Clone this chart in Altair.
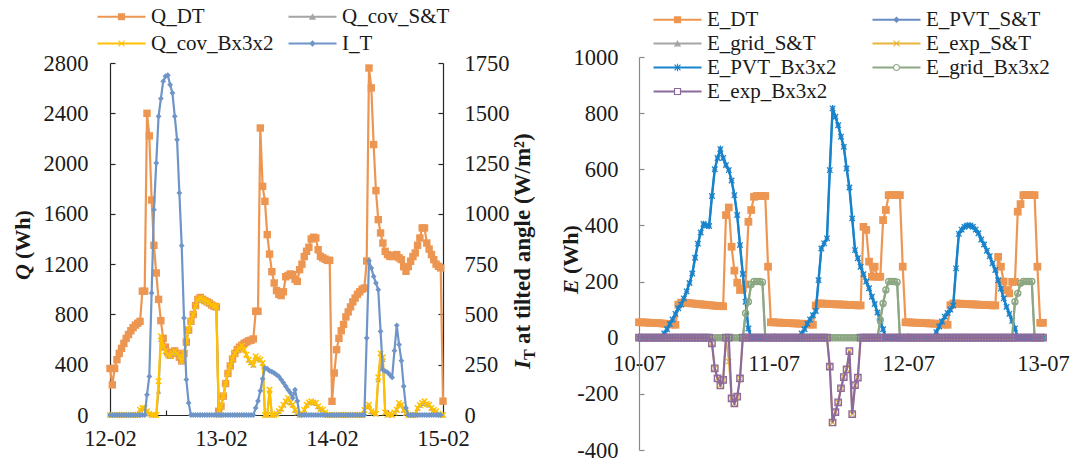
import json
import altair as alt
import pandas as pd

# ---------------------------------------------------------------------------
# Left panel: heat demand Q_DT, covered heat, irradiance I_T (half-hourly)
# ---------------------------------------------------------------------------
left_days = ["12-02", "13-02", "14-02", "15-02"]
left_names = ["Q_DT", "Q_cov_S&T", "Q_cov_Bx3x2", "I_T"]

q_dt = [
    370, 240, 370, 440, 490, 530, 570, 610, 640, 670, 695, 715, 730, 745,
    985, 985, 2400, 2220, 1710, 1350, 1130, 920, 750, 610, 540, 500, 475,
    495, 510, 490, 460, 430, 490, 580, 675, 745, 800, 870, 920, 935, 920,
    910, 900, 890, 875, 865, 860, 30, 70, 150, 250, 330, 390, 445, 490, 520,
    540, 555, 570, 580, 590,
    595, 605, 825, 825, 2283, 1819, 1700, 1435, 1280, 1140, 1050, 990, 960,
    950, 980, 1100, 1110, 1122, 1116, 1080, 1063, 1156, 1200, 1260, 1302,
    1334, 1400, 1414, 1408, 1315, 1262, 1250, 1240, 1230, 1230,
    109, 334, 520, 610, 670, 720, 780, 820, 860, 900, 930, 960, 980, 1000,
    1010, 1225, 2760, 2602, 2151, 1785, 1554, 1448, 1368, 1302, 1276, 1262,
    1260, 1270, 1276, 1250, 1236, 1180, 1143, 1180, 1223, 1260, 1289, 1350,
    1408, 1488, 1488, 1368, 1320, 1276, 1236, 1200, 1183, 1170, 110,
]

q_cov_bx = (
    [0] * 13
    + [42, 56, 56, 30, 10, 0, 0, 0, 268, 626, 546, 507, 480, 467, 493, 507,
       490, 467, 427, 493, 586, 679, 745, 800, 865, 918, 930, 918, 910, 900,
       891, 875, 865, 865]
    + [0, 69, 150, 250, 330, 390, 445, 490, 515, 533, 552, 520, 480, 440, 420,
       400, 467, 450, 440, 414, 0, 0, 202, 0, 0, 10, 30, 50, 82, 110, 135, 100,
       82, 40, 20, 0, 10, 40, 82, 100, 109, 100, 95, 69, 50, 42, 20]
    + [0] * 16
    + [40, 69, 82, 30, 20, 10, 300, 490, 460, 20, 0, 10, 0, 20, 42, 95, 82, 40,
       16]
    + [0] * 4
    + [56, 80, 95, 109, 90, 82, 56, 40, 29, 10, 0, 0]
)

q_cov_st = (
    [0] * 13
    + [40, 52, 50, 26, 8, 0, 0, 0, 188, 600, 540, 505, 478, 465, 490, 505,
       488, 465, 425, 490, 584, 676, 742, 798, 862, 915, 928, 916, 908, 898,
       889, 873, 863, 862]
    + [0, 66, 146, 246, 326, 386, 441, 486, 512, 530, 548, 516, 476, 436, 416,
       396, 462, 446, 436, 410, 0, 0, 190, 0, 0, 8, 26, 46, 78, 105, 130, 96,
       78, 36, 18, 0, 8, 36, 78, 96, 105, 96, 90, 65, 46, 38, 18]
    + [0] * 16
    + [36, 64, 78, 26, 18, 8, 280, 390, 440, 18, 0, 8, 0, 18, 38, 90, 78, 36,
       14]
    + [0] * 4
    + [52, 76, 90, 105, 86, 78, 52, 36, 26, 8, 0, 0]
)

i_t = (
    [0] * 16
    + [101, 192, 606, 1021, 1253, 1485, 1573, 1659, 1684, 1689, 1642, 1601,
       1485, 1369, 1104, 842, 482, 176, 60]
    + [0] * 28
    + [35, 70, 120, 180, 234, 230, 220, 215, 209, 200, 192, 176, 160, 143,
       125, 110, 85, 126, 70]
    + [0] * 29
    + [383, 767, 731, 689, 656, 623, 416, 225, 218, 212, 200, 187, 320, 446,
       350, 270, 143, 35]
    + [0] * 15
)

# ---------------------------------------------------------------------------
# Right panel: electricity balance (half-hourly), 10-07 .. 13-07
# ---------------------------------------------------------------------------
right_days = ["10-07", "11-07", "12-07", "13-07"]
right_names = ["E_DT", "E_PVT_S&T", "E_grid_S&T", "E_exp_S&T",
               "E_PVT_Bx3x2", "E_grid_Bx3x2", "E_exp_Bx3x2"]

e_dt = (
    [55, 55, 54, 54, 53, 53, 52, 52, 51, 50, 49, 48, 47, 46]
    + [118, 125, 125, 124, 123, 122, 121, 120, 119, 118, 117, 116, 115, 114,
       113, 113, 112]
    + [437, 464, 324, 239, 196, 170, 175, 190, 413, 455, 502, 505, 505, 505,
       505, 253]
    + [55, 55, 54, 54, 53, 53, 52, 52, 51, 51, 50, 50, 49, 48, 47, 46]
    + [115, 122, 122, 121, 121, 120, 120, 119, 119, 118, 118, 117, 117, 116,
       116, 115, 115]
    + [395, 384, 271, 217, 253, 217, 217, 419, 455, 508, 508, 508, 508, 508,
       253]
    + [55, 55, 54, 54, 53, 53, 52, 52, 51, 51, 50, 50, 49, 48, 47, 46]
    + [116, 122, 122, 121, 121, 120, 120, 119, 119, 118, 118, 117, 117, 116,
       116, 115, 115]
    + [288, 253, 200, 170, 158, 199, 199, 449, 476, 508, 508, 508, 508, 508,
       253, 53, 53]
)

e_pvt_bx = (
    [0] * 9
    + [15, 30, 49, 65, 85, 105, 118, 140, 165, 195, 229, 285, 335, 375, 405,
       400, 398, 505, 600, 640, 672, 640, 615, 597, 560, 508, 437, 330, 227,
       128, 33, 0]
    + [0] * 17
    + [15, 30, 50, 65, 80, 95, 205, 318, 336, 354, 597, 817, 787, 757, 716,
       680, 603, 535, 425, 312, 283, 253, 226, 200, 176, 146, 120, 90, 60, 30,
       0]
    + [0] * 17
    + [20, 40, 58, 75, 88, 100, 115, 247, 370, 385, 395, 400, 400, 395, 385,
       372, 350, 332, 310, 290, 265, 241, 205, 175, 140, 110, 85, 60, 33, 0]
    + [0] * 9
)
e_pvt_st = list(e_pvt_bx)

e_grid_bx = (
    [0] * 38 + [87, 128, 190, 200, 200, 200, 198, 0]
    + [0] * 40 + [63, 122, 170, 200, 200, 200, 198, 0]
    + [0] * 40 + [128, 158, 194, 200, 200, 200, 200, 0]
    + [0] * 3
)
e_grid_st = list(e_grid_bx)

e_exp_bx = (
    [0] * 26
    + [-20, -109, -145, -170, -150, 0, 0, -216, -234, -210, -145, 0]
    + [0] * 30
    + [-103, -302, -265, -230, -180, -140, -113, -48, -272, -169, -142, 0]
    + [0] * 65
)
e_exp_st = (
    [0] * 26
    + [-20, -109, -145, -170, -150, 0, -85, -216, -234, -210, -145, 0]
    + [0] * 30
    + [-103, -302, -265, -230, -180, -140, -113, -48, -272, -169, -142, 0]
    + [0] * 65
)

# ---------------------------------------------------------------------------
# styling
# ---------------------------------------------------------------------------
FONT = "Liberation Serif"
W, H = 1070, 460
ORANGE = "#ED9652"
GREY = "#A5A5A5"
YELLOW = "#FFC000"
STEEL = "#6F95C8"
PVT_ST = "#6A8DC4"
GOLD = "#E8B33A"
BLUE = "#1684CC"
GREEN = "#8CA882"
PURPLE = "#8C6A9C"

X_MARK = "M-1,-1L1,1M-1,1L1,-1"
STAR_MARK = "M-1,-1L1,1M-1,1L1,-1M0,-1.2L0,1.2"

# pixel spans of the two plot areas (one shared canvas)
LX = alt.Scale(domain=[0, 72], range=[110, 443], nice=False)
LQ = alt.Scale(domain=[0, 2800], range=[415, 63], nice=False)
LI = alt.Scale(domain=[0, 1750], range=[415, 63], nice=False)
RX = alt.Scale(domain=[0, 72], range=[639, 1043], nice=False)
RE = alt.Scale(domain=[-400, 1000], range=[450, 57], nice=False)


def frame(values):
    return pd.DataFrame({"h": [0.5 * i for i in range(len(values))],
                         "v": values})


def day_expr(days):
    return f"{json.dumps(days)}[round(datum.value / 24)]"


axis_common = dict(labelFont=FONT, labelFontSize=22.5, labelColor="#1a1a1a",
                   grid=False, title=None, ticks=False, labelOverlap=False,
                   labelFlush=False, labelBound=False)

ax_left_x = alt.Axis(orient="bottom", offset=415 - H, values=[0, 24, 48, 72],
                     labelExpr=day_expr(left_days), labelPadding=12,
                     domainColor="#262626", domainWidth=1.2, **axis_common)
ax_left_q = alt.Axis(orient="left", offset=-110,
                     values=list(range(0, 2801, 400)),
                     labelExpr="'' + datum.value", labelPadding=22,
                     domainColor="#262626", domainWidth=1.2, **axis_common)
ax_left_i = alt.Axis(orient="right", offset=443 - W,
                     values=list(range(0, 1751, 250)),
                     labelExpr="'' + datum.value", labelPadding=21,
                     domainColor="#262626", domainWidth=1.2, **axis_common)
ax_right_x = alt.Axis(orient="bottom", offset=337.7 - H,
                      values=[0, 24, 48, 72], labelExpr=day_expr(right_days),
                      labelPadding=15, domainColor="#8a8a8a", domainWidth=1.2,
                      **axis_common)
ax_right_e = alt.Axis(orient="left", offset=-639,
                      values=list(range(-400, 1001, 200)),
                      labelExpr="'' + datum.value", labelPadding=21,
                      domainColor="#8a8a8a", domainWidth=1.2, **axis_common)

tick_common = dict(labels=False, domain=False, grid=False, title=None,
                   ticks=True, tickSize=5, tickWidth=1.2)


def series(values, xs, ys, xa, ya, color, shape, size, filled, width,
           stroke=1.0):
    base = alt.Chart(frame(values)).encode(
        x=alt.X("h:Q", scale=xs, axis=xa),
        y=alt.Y("v:Q", scale=ys, axis=ya),
    )
    line = base.mark_line(color=color, strokeWidth=width)
    pts = base.mark_point(shape=shape, size=size, filled=filled, color=color,
                          opacity=1, strokeWidth=stroke)
    return [line, pts]


# left panel, Q on the primary axis
left_q = alt.layer(
    *series(q_dt, LX, LQ, ax_left_x, ax_left_q, ORANGE, "square", 55, True, 2.2),
    *series(q_cov_st, LX, LQ, ax_left_x, ax_left_q, GREY, "triangle-up", 30,
            True, 2.0),
    *series(q_cov_bx, LX, LQ, ax_left_x, ax_left_q, YELLOW, X_MARK, 30, False,
            2.2, 1.5),
)
# irradiance on the secondary axis
left_i = alt.layer(
    *series(i_t, LX, LI, None, ax_left_i, STEEL, "diamond", 34, True, 2.2),
)

# inward tick marks of the left panel
ticks_left_q = alt.Chart(frame(q_dt)).mark_point(opacity=0).encode(
    x=alt.X("h:Q", scale=LX, axis=alt.Axis(orient="top", offset=-415,
                                            values=[12, 36, 60],
                                            tickColor="#262626", **tick_common)),
    y=alt.Y("v:Q", scale=LQ, axis=alt.Axis(orient="right", offset=110 - W,
                                            values=list(range(0, 2801, 400)),
                                            tickColor="#262626", **tick_common)),
)
ticks_left_i = alt.Chart(frame(i_t)).mark_point(opacity=0).encode(
    x=alt.X("h:Q", scale=LX, axis=None),
    y=alt.Y("v:Q", scale=LI, axis=alt.Axis(orient="left", offset=-443,
                                            values=list(range(0, 1751, 250)),
                                            tickColor="#262626", **tick_common)),
)

# right panel
right_e = alt.layer(
    *series(e_dt, RX, RE, ax_right_x, ax_right_e, ORANGE, "square", 60, True, 2.2),
    *series(e_pvt_st, RX, RE, ax_right_x, ax_right_e, PVT_ST, "diamond", 30,
            True, 2.0),
    *series(e_grid_st, RX, RE, ax_right_x, ax_right_e, GREY, "triangle-up", 30,
            True, 2.0),
    *series(e_exp_st, RX, RE, ax_right_x, ax_right_e, GOLD, X_MARK, 26, False,
            1.8, 1.3),
    *series(e_pvt_bx, RX, RE, ax_right_x, ax_right_e, BLUE, STAR_MARK, 30,
            False, 2.4, 1.3),
    *series(e_grid_bx, RX, RE, ax_right_x, ax_right_e, GREEN, "circle", 36,
            False, 2.2, 1.4),
    *series(e_exp_bx, RX, RE, ax_right_x, ax_right_e, PURPLE, "square", 40,
            False, 2.2, 1.4),
)
ticks_right = alt.Chart(frame(e_dt)).mark_point(opacity=0).encode(
    x=alt.X("h:Q", scale=RX, axis=alt.Axis(orient="top", offset=-337.7,
                                            values=[24, 48, 72],
                                            tickColor="#8a8a8a", **tick_common)),
    y=alt.Y("v:Q", scale=RE, axis=alt.Axis(orient="right", offset=639 - W,
                                            values=list(range(-400, 1001, 200)),
                                            tickColor="#8a8a8a", **tick_common)),
)

# ---------------------------------------------------------------------------
# legends: line + marker symbols drawn as custom paths
# ---------------------------------------------------------------------------
LINE_FULL = "M-3,-0.13H3V0.13H-3Z"
LINE_SPLIT = "M-3,-0.13H-0.45V0.13H-3Z M0.45,-0.13H3V0.13H0.45Z"
SQ = "M-0.45,-0.45H0.45V0.45H-0.45Z"
TRI = "M0,-0.45L0.45,0.38L-0.45,0.38Z"
DIA = "M0,-0.42L0.42,0L0,0.42L-0.42,0Z"
XS = ("M-0.42,-0.32L-0.32,-0.42L0.42,0.32L0.32,0.42Z "
      "M0.42,-0.32L-0.32,0.42L-0.42,0.32L0.32,-0.42Z")
STAR = XS + " M-0.06,-0.48H0.06V0.48H-0.06Z"
RING_SQ = SQ + " M-0.3,-0.3V0.3H0.3V-0.3Z"
RING_CI = ("M0.45,0A0.45,0.45 0 1 1 -0.45,0A0.45,0.45 0 1 1 0.45,0Z "
           "M0.3,0A0.3,0.3 0 1 0 -0.3,0A0.3,0.3 0 1 0 0.3,0Z")

legend_symbol = {
    "Q_DT": (ORANGE, LINE_FULL + " " + SQ),
    "Q_cov_S&T": (GREY, LINE_FULL + " " + TRI),
    "Q_cov_Bx3x2": (YELLOW, LINE_FULL + " " + XS),
    "I_T": (STEEL, LINE_FULL + " " + DIA),
    "E_DT": (ORANGE, LINE_FULL + " " + SQ),
    "E_PVT_S&T": (PVT_ST, LINE_FULL + " " + DIA),
    "E_grid_S&T": (GREY, LINE_FULL + " " + TRI),
    "E_exp_S&T": (GOLD, LINE_FULL + " " + XS),
    "E_PVT_Bx3x2": (BLUE, LINE_FULL + " " + STAR),
    "E_grid_Bx3x2": (GREEN, LINE_SPLIT + " " + RING_CI),
    "E_exp_Bx3x2": (PURPLE, LINE_SPLIT + " " + RING_SQ),
}


def column_order(names, cols=2):
    # legend entries fill column by column; keep the reading order row-wise
    grid = [names[i::cols] for i in range(cols)]
    return [n for col in grid for n in col]


def legend_layer(names, x, y, col_pad, row_pad):
    order = column_order(names)
    colors = [legend_symbol[n][0] for n in order]
    symbols = [legend_symbol[n][1] for n in order]
    leg = alt.Legend(orient="none", legendX=x, legendY=y, columns=2,
                     title=None, symbolSize=256, symbolStrokeWidth=0,
                     symbolOffset=16, labelOffset=19, labelFont=FONT,
                     labelFontSize=21, labelColor="#1a1a1a",
                     columnPadding=col_pad, rowPadding=row_pad,
                     labelLimit=400)
    return alt.Chart(pd.DataFrame({"name": order})).transform_filter(
        "false").mark_point(filled=True, opacity=1).encode(
        color=alt.Color("name:N", scale=alt.Scale(domain=order, range=colors),
                        legend=leg),
        shape=alt.Shape("name:N", scale=alt.Scale(domain=order, range=symbols),
                        legend=leg),
    )


legend_left = legend_layer(left_names, 95, 6, 12, 5)
legend_right = legend_layer(right_names, 651, 9, 33, 2)


# ---------------------------------------------------------------------------
# rotated axis titles with italic symbols and sub/superscripts
# ---------------------------------------------------------------------------
def title_piece(text, x, y, size, dx=0, dy=0, italic=False):
    return alt.Chart(pd.DataFrame({"t": [text]})).mark_text(
        angle=270, align="left", baseline="alphabetic", font=FONT,
        fontSize=size, fontWeight="bold",
        fontStyle="italic" if italic else "normal", color="#1a1a1a",
        dx=dx, dy=dy,
    ).encode(text="t:N", x=alt.value(x), y=alt.value(y))


titles = [
    title_piece("Q", 30, 280, 22, italic=True),
    title_piece("(Wh)", 30, 280, 22, dx=21),
    title_piece("I", 530, 369, 23, italic=True),
    title_piece("T", 530, 369, 16, dx=9, dy=5),
    title_piece("at tilted angle (W/m²)", 530, 369, 23, dx=25),
    title_piece("E", 578, 294, 22, italic=True),
    title_piece("(Wh)", 578, 294, 22, dx=20),
]

chart = alt.layer(
    left_q, left_i, ticks_left_q, ticks_left_i, right_e, ticks_right,
    legend_left, legend_right, *titles,
).resolve_scale(
    x="independent", y="independent", color="independent",
    shape="independent",
).properties(
    width=W, height=H, padding=0,
    autosize=alt.AutoSizeParams(type="none"),
    background="white",
).configure_view(stroke=None)

chart.save("out.html", embed_options={"renderer": "svg", "actions": False})
